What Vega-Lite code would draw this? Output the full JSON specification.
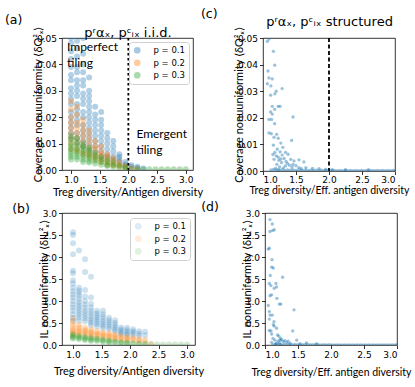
{
"$schema": "https://vega.github.io/schema/vega-lite/v6.json",
"padding": {"left": 4, "top": 7, "right": 20, "bottom": 4},
"background": "white",
"config": {
  "view": {"stroke": "#000", "strokeWidth": 0.8},
  "axis": {"grid": false, "domain": false, "tickColor": "#000", "tickSize": 3.5, "tickWidth": 0.8, "labelFont": "DejaVu Sans", "labelFontSize": 9, "labelColor": "#000", "labelPadding": 2, "titleFont": "Lato", "titleFontSize": 11, "titleFontWeight": "normal", "titleColor": "#000"},
  "axisY": {"titlePadding": -7},
  "title": {"font": "DejaVu Sans", "fontSize": 12.5, "fontWeight": "normal", "color": "#000", "anchor": "start", "frame": "bounds"},
  "legend": {"fillColor": "white", "strokeColor": "#d0d0d0", "cornerRadius": 3, "padding": 4, "symbolSize": 45, "symbolStrokeWidth": 0, "symbolType": "circle", "labelFont": "DejaVu Sans", "labelFontSize": 8.5, "labelColor": "#000", "rowPadding": 3.5, "labelOffset": 12}
},
"datasets": {
"qa": [
{"x":1,"p":"0.1","y":0.050},{"x":1,"p":"0.1","y":0.048},{"x":1,"p":"0.1","y":0.045},{"x":1,"p":"0.1","y":0.042},{"x":1,"p":"0.1","y":0.039},{"x":1,"p":"0.1","y":0.036},{"x":1,"p":"0.1","y":0.034},{"x":1,"p":"0.1","y":0.031},{"x":1,"p":"0.1","y":0.029},{"x":1,"p":"0.1","y":0.027},{"x":1,"p":"0.1","y":0.025},{"x":1,"p":"0.1","y":0.022},{"x":1,"p":"0.1","y":0.020},{"x":1,"p":"0.1","y":0.018},{"x":1,"p":"0.1","y":0.016},{"x":1,"p":"0.1","y":0.014},{"x":1,"p":"0.1","y":0.012},
{"x":1.105,"p":"0.1","y":0.049},{"x":1.105,"p":"0.1","y":0.046},{"x":1.105,"p":"0.1","y":0.043},{"x":1.105,"p":"0.1","y":0.039},{"x":1.105,"p":"0.1","y":0.037},{"x":1.105,"p":"0.1","y":0.034},{"x":1.105,"p":"0.1","y":0.032},{"x":1.105,"p":"0.1","y":0.030},{"x":1.105,"p":"0.1","y":0.028},{"x":1.105,"p":"0.1","y":0.025},{"x":1.105,"p":"0.1","y":0.023},{"x":1.105,"p":"0.1","y":0.021},{"x":1.105,"p":"0.1","y":0.019},{"x":1.105,"p":"0.1","y":0.017},{"x":1.105,"p":"0.1","y":0.014},{"x":1.105,"p":"0.1","y":0.012},{"x":1.105,"p":"0.1","y":0.010},
{"x":1.211,"p":"0.1","y":0.050},{"x":1.211,"p":"0.1","y":0.044},{"x":1.211,"p":"0.1","y":0.040},{"x":1.211,"p":"0.1","y":0.037},{"x":1.211,"p":"0.1","y":0.034},{"x":1.211,"p":"0.1","y":0.032},{"x":1.211,"p":"0.1","y":0.029},{"x":1.211,"p":"0.1","y":0.027},{"x":1.211,"p":"0.1","y":0.025},{"x":1.211,"p":"0.1","y":0.022},{"x":1.211,"p":"0.1","y":0.020},{"x":1.211,"p":"0.1","y":0.017},{"x":1.211,"p":"0.1","y":0.015},{"x":1.211,"p":"0.1","y":0.013},{"x":1.211,"p":"0.1","y":0.011},{"x":1.211,"p":"0.1","y":0.009},
{"x":1.316,"p":"0.1","y":0.035},{"x":1.316,"p":"0.1","y":0.030},{"x":1.316,"p":"0.1","y":0.028},{"x":1.316,"p":"0.1","y":0.026},{"x":1.316,"p":"0.1","y":0.024},{"x":1.316,"p":"0.1","y":0.022},{"x":1.316,"p":"0.1","y":0.020},{"x":1.316,"p":"0.1","y":0.018},{"x":1.316,"p":"0.1","y":0.016},{"x":1.316,"p":"0.1","y":0.014},{"x":1.316,"p":"0.1","y":0.012},{"x":1.316,"p":"0.1","y":0.010},{"x":1.316,"p":"0.1","y":0.008},
{"x":1.421,"p":"0.1","y":0.024},{"x":1.421,"p":"0.1","y":0.021},{"x":1.421,"p":"0.1","y":0.019},{"x":1.421,"p":"0.1","y":0.017},{"x":1.421,"p":"0.1","y":0.015},{"x":1.421,"p":"0.1","y":0.013},{"x":1.421,"p":"0.1","y":0.011},{"x":1.421,"p":"0.1","y":0.009},{"x":1.421,"p":"0.1","y":0.007},
{"x":1.526,"p":"0.1","y":0.022},{"x":1.526,"p":"0.1","y":0.019},{"x":1.526,"p":"0.1","y":0.017},{"x":1.526,"p":"0.1","y":0.015},{"x":1.526,"p":"0.1","y":0.013},{"x":1.526,"p":"0.1","y":0.011},{"x":1.526,"p":"0.1","y":0.009},{"x":1.526,"p":"0.1","y":0.007},{"x":1.526,"p":"0.1","y":0.005},
{"x":1.632,"p":"0.1","y":0.014},{"x":1.632,"p":"0.1","y":0.012},{"x":1.632,"p":"0.1","y":0.010},{"x":1.632,"p":"0.1","y":0.008},{"x":1.632,"p":"0.1","y":0.006},{"x":1.632,"p":"0.1","y":0.005},
{"x":1.737,"p":"0.1","y":0.011},{"x":1.737,"p":"0.1","y":0.009},{"x":1.737,"p":"0.1","y":0.007},{"x":1.737,"p":"0.1","y":0.005},{"x":1.737,"p":"0.1","y":0.004},
{"x":1.842,"p":"0.1","y":0.006},{"x":1.842,"p":"0.1","y":0.005},{"x":1.842,"p":"0.1","y":0.004},{"x":1.842,"p":"0.1","y":0.003},
{"x":1.947,"p":"0.1","y":0.003},{"x":1.947,"p":"0.1","y":0.0022},{"x":1.947,"p":"0.1","y":0.0015},
{"x":2.053,"p":"0.1","y":0.0018},{"x":2.053,"p":"0.1","y":0.0012},
{"x":2.158,"p":"0.1","y":0.0012},{"x":2.158,"p":"0.1","y":0.0008},
{"x":2.263,"p":"0.1","y":0.0006},
{"x":1,"p":"0.2","y":0.026},{"x":1,"p":"0.2","y":0.023},{"x":1,"p":"0.2","y":0.020},{"x":1,"p":"0.2","y":0.018},{"x":1,"p":"0.2","y":0.016},{"x":1,"p":"0.2","y":0.014},{"x":1,"p":"0.2","y":0.012},{"x":1,"p":"0.2","y":0.010},{"x":1,"p":"0.2","y":0.008},
{"x":1.105,"p":"0.2","y":0.024},{"x":1.105,"p":"0.2","y":0.021},{"x":1.105,"p":"0.2","y":0.018},{"x":1.105,"p":"0.2","y":0.016},{"x":1.105,"p":"0.2","y":0.014},{"x":1.105,"p":"0.2","y":0.012},{"x":1.105,"p":"0.2","y":0.010},{"x":1.105,"p":"0.2","y":0.008},{"x":1.105,"p":"0.2","y":0.007},
{"x":1.211,"p":"0.2","y":0.019},{"x":1.211,"p":"0.2","y":0.017},{"x":1.211,"p":"0.2","y":0.015},{"x":1.211,"p":"0.2","y":0.013},{"x":1.211,"p":"0.2","y":0.011},{"x":1.211,"p":"0.2","y":0.009},{"x":1.211,"p":"0.2","y":0.007},{"x":1.211,"p":"0.2","y":0.006},
{"x":1.316,"p":"0.2","y":0.015},{"x":1.316,"p":"0.2","y":0.013},{"x":1.316,"p":"0.2","y":0.011},{"x":1.316,"p":"0.2","y":0.009},{"x":1.316,"p":"0.2","y":0.007},{"x":1.316,"p":"0.2","y":0.006},{"x":1.316,"p":"0.2","y":0.005},
{"x":1.421,"p":"0.2","y":0.011},{"x":1.421,"p":"0.2","y":0.009},{"x":1.421,"p":"0.2","y":0.008},{"x":1.421,"p":"0.2","y":0.006},{"x":1.421,"p":"0.2","y":0.005},{"x":1.421,"p":"0.2","y":0.004},
{"x":1.526,"p":"0.2","y":0.009},{"x":1.526,"p":"0.2","y":0.007},{"x":1.526,"p":"0.2","y":0.006},{"x":1.526,"p":"0.2","y":0.005},{"x":1.526,"p":"0.2","y":0.004},{"x":1.526,"p":"0.2","y":0.003},
{"x":1.632,"p":"0.2","y":0.006},{"x":1.632,"p":"0.2","y":0.005},{"x":1.632,"p":"0.2","y":0.004},{"x":1.632,"p":"0.2","y":0.003},{"x":1.632,"p":"0.2","y":0.002},
{"x":1.737,"p":"0.2","y":0.0045},{"x":1.737,"p":"0.2","y":0.0035},{"x":1.737,"p":"0.2","y":0.0025},{"x":1.737,"p":"0.2","y":0.0018},
{"x":1.842,"p":"0.2","y":0.003},{"x":1.842,"p":"0.2","y":0.002},{"x":1.842,"p":"0.2","y":0.0014},
{"x":1.947,"p":"0.2","y":0.0015},{"x":1.947,"p":"0.2","y":0.001},
{"x":2.053,"p":"0.2","y":0.0007},{"x":2.158,"p":"0.2","y":0.0004},
{"x":1,"p":"0.3","y":0.013},{"x":1,"p":"0.3","y":0.0115},{"x":1,"p":"0.3","y":0.010},{"x":1,"p":"0.3","y":0.009},{"x":1,"p":"0.3","y":0.008},{"x":1,"p":"0.3","y":0.007},{"x":1,"p":"0.3","y":0.006},{"x":1,"p":"0.3","y":0.005},{"x":1,"p":"0.3","y":0.004},
{"x":1.105,"p":"0.3","y":0.012},{"x":1.105,"p":"0.3","y":0.0105},{"x":1.105,"p":"0.3","y":0.009},{"x":1.105,"p":"0.3","y":0.008},{"x":1.105,"p":"0.3","y":0.007},{"x":1.105,"p":"0.3","y":0.006},{"x":1.105,"p":"0.3","y":0.005},{"x":1.105,"p":"0.3","y":0.004},
{"x":1.211,"p":"0.3","y":0.010},{"x":1.211,"p":"0.3","y":0.009},{"x":1.211,"p":"0.3","y":0.008},{"x":1.211,"p":"0.3","y":0.007},{"x":1.211,"p":"0.3","y":0.006},{"x":1.211,"p":"0.3","y":0.005},{"x":1.211,"p":"0.3","y":0.004},{"x":1.211,"p":"0.3","y":0.003},
{"x":1.316,"p":"0.3","y":0.0085},{"x":1.316,"p":"0.3","y":0.0075},{"x":1.316,"p":"0.3","y":0.0065},{"x":1.316,"p":"0.3","y":0.0055},{"x":1.316,"p":"0.3","y":0.0045},{"x":1.316,"p":"0.3","y":0.0035},{"x":1.316,"p":"0.3","y":0.0028},
{"x":1.421,"p":"0.3","y":0.0065},{"x":1.421,"p":"0.3","y":0.0055},{"x":1.421,"p":"0.3","y":0.0045},{"x":1.421,"p":"0.3","y":0.0035},{"x":1.421,"p":"0.3","y":0.0025},
{"x":1.526,"p":"0.3","y":0.005},{"x":1.526,"p":"0.3","y":0.004},{"x":1.526,"p":"0.3","y":0.003},{"x":1.526,"p":"0.3","y":0.002},
{"x":1.632,"p":"0.3","y":0.004},{"x":1.632,"p":"0.3","y":0.003},{"x":1.632,"p":"0.3","y":0.002},{"x":1.632,"p":"0.3","y":0.0015},
{"x":1.737,"p":"0.3","y":0.003},{"x":1.737,"p":"0.3","y":0.002},{"x":1.737,"p":"0.3","y":0.0012},
{"x":1.842,"p":"0.3","y":0.0018},{"x":1.842,"p":"0.3","y":0.001},
{"x":1.947,"p":"0.3","y":0.001},{"x":1.947,"p":"0.3","y":0.0006},
{"x":2.053,"p":"0.3","y":0.0004},{"x":2.158,"p":"0.3","y":0.0003},{"x":2.263,"p":"0.3","y":0.0003},{"x":2.368,"p":"0.3","y":0.0003},{"x":2.474,"p":"0.3","y":0.0003},{"x":2.579,"p":"0.3","y":0.0003},{"x":2.684,"p":"0.3","y":0.0003},{"x":2.789,"p":"0.3","y":0.0003},{"x":2.895,"p":"0.3","y":0.0003},{"x":3.0,"p":"0.3","y":0.0003}
],
"ilb": [
{"x":1,"p":"0.1","y":2.56},{"x":1,"p":"0.1","y":2.50},{"x":1,"p":"0.1","y":2.31},{"x":1,"p":"0.1","y":2.06},{"x":1,"p":"0.1","y":1.69},{"x":1,"p":"0.1","y":1.63},{"x":1,"p":"0.1","y":1.47},{"x":1,"p":"0.1","y":1.40},{"x":1,"p":"0.1","y":1.30},{"x":1,"p":"0.1","y":1.22},{"x":1,"p":"0.1","y":1.15},{"x":1,"p":"0.1","y":1.08},{"x":1,"p":"0.1","y":1.00},{"x":1,"p":"0.1","y":0.92},{"x":1,"p":"0.1","y":0.85},{"x":1,"p":"0.1","y":0.78},{"x":1,"p":"0.1","y":0.70},{"x":1,"p":"0.1","y":0.62},{"x":1,"p":"0.1","y":0.55},
{"x":1.105,"p":"0.1","y":2.15},{"x":1.105,"p":"0.1","y":1.30},{"x":1.105,"p":"0.1","y":1.24},{"x":1.105,"p":"0.1","y":1.18},{"x":1.105,"p":"0.1","y":1.12},{"x":1.105,"p":"0.1","y":1.05},{"x":1.105,"p":"0.1","y":0.98},{"x":1.105,"p":"0.1","y":0.92},{"x":1.105,"p":"0.1","y":0.86},{"x":1.105,"p":"0.1","y":0.80},{"x":1.105,"p":"0.1","y":0.74},{"x":1.105,"p":"0.1","y":0.68},{"x":1.105,"p":"0.1","y":0.62},{"x":1.105,"p":"0.1","y":0.55},
{"x":1.211,"p":"0.1","y":1.95},{"x":1.211,"p":"0.1","y":1.66},{"x":1.211,"p":"0.1","y":1.25},{"x":1.211,"p":"0.1","y":1.10},{"x":1.211,"p":"0.1","y":1.00},{"x":1.211,"p":"0.1","y":0.92},{"x":1.211,"p":"0.1","y":0.85},{"x":1.211,"p":"0.1","y":0.78},{"x":1.211,"p":"0.1","y":0.72},{"x":1.211,"p":"0.1","y":0.66},{"x":1.211,"p":"0.1","y":0.60},{"x":1.211,"p":"0.1","y":0.54},
{"x":1.316,"p":"0.1","y":1.55},{"x":1.316,"p":"0.1","y":1.08},{"x":1.316,"p":"0.1","y":0.94},{"x":1.316,"p":"0.1","y":0.85},{"x":1.316,"p":"0.1","y":0.78},{"x":1.316,"p":"0.1","y":0.72},{"x":1.316,"p":"0.1","y":0.66},{"x":1.316,"p":"0.1","y":0.60},{"x":1.316,"p":"0.1","y":0.55},{"x":1.316,"p":"0.1","y":0.50},{"x":1.316,"p":"0.1","y":0.45},
{"x":1.421,"p":"0.1","y":0.78},{"x":1.421,"p":"0.1","y":0.72},{"x":1.421,"p":"0.1","y":0.67},{"x":1.421,"p":"0.1","y":0.62},{"x":1.421,"p":"0.1","y":0.57},{"x":1.421,"p":"0.1","y":0.52},{"x":1.421,"p":"0.1","y":0.47},{"x":1.421,"p":"0.1","y":0.42},
{"x":1.526,"p":"0.1","y":0.78},{"x":1.526,"p":"0.1","y":0.70},{"x":1.526,"p":"0.1","y":0.64},{"x":1.526,"p":"0.1","y":0.58},{"x":1.526,"p":"0.1","y":0.53},{"x":1.526,"p":"0.1","y":0.48},{"x":1.526,"p":"0.1","y":0.43},{"x":1.526,"p":"0.1","y":0.38},
{"x":1.632,"p":"0.1","y":0.62},{"x":1.632,"p":"0.1","y":0.56},{"x":1.632,"p":"0.1","y":0.51},{"x":1.632,"p":"0.1","y":0.46},{"x":1.632,"p":"0.1","y":0.41},{"x":1.632,"p":"0.1","y":0.36},
{"x":1.737,"p":"0.1","y":0.56},{"x":1.737,"p":"0.1","y":0.50},{"x":1.737,"p":"0.1","y":0.45},{"x":1.737,"p":"0.1","y":0.40},{"x":1.737,"p":"0.1","y":0.35},{"x":1.737,"p":"0.1","y":0.31},
{"x":1.842,"p":"0.1","y":0.40},{"x":1.842,"p":"0.1","y":0.36},{"x":1.842,"p":"0.1","y":0.32},{"x":1.842,"p":"0.1","y":0.28},{"x":1.842,"p":"0.1","y":0.25},
{"x":1.947,"p":"0.1","y":0.39},{"x":1.947,"p":"0.1","y":0.34},{"x":1.947,"p":"0.1","y":0.30},{"x":1.947,"p":"0.1","y":0.26},{"x":1.947,"p":"0.1","y":0.23},
{"x":2.053,"p":"0.1","y":0.36},{"x":2.053,"p":"0.1","y":0.31},{"x":2.053,"p":"0.1","y":0.27},{"x":2.053,"p":"0.1","y":0.23},
{"x":2.158,"p":"0.1","y":0.31},{"x":2.158,"p":"0.1","y":0.26},{"x":2.158,"p":"0.1","y":0.21},
{"x":2.263,"p":"0.1","y":0.30},{"x":2.263,"p":"0.1","y":0.22},
{"x":1,"p":"0.2","y":0.60},{"x":1,"p":"0.2","y":0.52},{"x":1,"p":"0.2","y":0.46},{"x":1,"p":"0.2","y":0.41},{"x":1,"p":"0.2","y":0.37},{"x":1,"p":"0.2","y":0.33},{"x":1,"p":"0.2","y":0.30},{"x":1,"p":"0.2","y":0.27},{"x":1,"p":"0.2","y":0.24},
{"x":1.105,"p":"0.2","y":0.46},{"x":1.105,"p":"0.2","y":0.41},{"x":1.105,"p":"0.2","y":0.37},{"x":1.105,"p":"0.2","y":0.33},{"x":1.105,"p":"0.2","y":0.30},{"x":1.105,"p":"0.2","y":0.27},{"x":1.105,"p":"0.2","y":0.24},
{"x":1.211,"p":"0.2","y":0.40},{"x":1.211,"p":"0.2","y":0.35},{"x":1.211,"p":"0.2","y":0.32},{"x":1.211,"p":"0.2","y":0.29},{"x":1.211,"p":"0.2","y":0.26},{"x":1.211,"p":"0.2","y":0.23},
{"x":1.316,"p":"0.2","y":0.36},{"x":1.316,"p":"0.2","y":0.32},{"x":1.316,"p":"0.2","y":0.29},{"x":1.316,"p":"0.2","y":0.26},{"x":1.316,"p":"0.2","y":0.23},{"x":1.316,"p":"0.2","y":0.20},
{"x":1.421,"p":"0.2","y":0.32},{"x":1.421,"p":"0.2","y":0.28},{"x":1.421,"p":"0.2","y":0.25},{"x":1.421,"p":"0.2","y":0.22},{"x":1.421,"p":"0.2","y":0.19},
{"x":1.526,"p":"0.2","y":0.29},{"x":1.526,"p":"0.2","y":0.26},{"x":1.526,"p":"0.2","y":0.23},{"x":1.526,"p":"0.2","y":0.20},{"x":1.526,"p":"0.2","y":0.17},
{"x":1.632,"p":"0.2","y":0.27},{"x":1.632,"p":"0.2","y":0.24},{"x":1.632,"p":"0.2","y":0.21},{"x":1.632,"p":"0.2","y":0.18},{"x":1.632,"p":"0.2","y":0.15},
{"x":1.737,"p":"0.2","y":0.25},{"x":1.737,"p":"0.2","y":0.22},{"x":1.737,"p":"0.2","y":0.19},{"x":1.737,"p":"0.2","y":0.16},{"x":1.737,"p":"0.2","y":0.13},
{"x":1.842,"p":"0.2","y":0.21},{"x":1.842,"p":"0.2","y":0.18},{"x":1.842,"p":"0.2","y":0.15},{"x":1.842,"p":"0.2","y":0.12},
{"x":1.947,"p":"0.2","y":0.19},{"x":1.947,"p":"0.2","y":0.16},{"x":1.947,"p":"0.2","y":0.13},{"x":1.947,"p":"0.2","y":0.10},
{"x":2.053,"p":"0.2","y":0.17},{"x":2.053,"p":"0.2","y":0.14},{"x":2.053,"p":"0.2","y":0.11},
{"x":2.158,"p":"0.2","y":0.14},{"x":2.158,"p":"0.2","y":0.11},{"x":2.158,"p":"0.2","y":0.08},
{"x":2.263,"p":"0.2","y":0.12},{"x":2.263,"p":"0.2","y":0.08},{"x":2.368,"p":"0.2","y":0.03},
{"x":1,"p":"0.3","y":0.25},{"x":1,"p":"0.3","y":0.22},{"x":1,"p":"0.3","y":0.20},{"x":1,"p":"0.3","y":0.18},{"x":1,"p":"0.3","y":0.16},{"x":1,"p":"0.3","y":0.14},
{"x":1.105,"p":"0.3","y":0.21},{"x":1.105,"p":"0.3","y":0.19},{"x":1.105,"p":"0.3","y":0.17},{"x":1.105,"p":"0.3","y":0.15},{"x":1.105,"p":"0.3","y":0.13},
{"x":1.211,"p":"0.3","y":0.19},{"x":1.211,"p":"0.3","y":0.17},{"x":1.211,"p":"0.3","y":0.15},{"x":1.211,"p":"0.3","y":0.13},{"x":1.211,"p":"0.3","y":0.11},
{"x":1.316,"p":"0.3","y":0.17},{"x":1.316,"p":"0.3","y":0.15},{"x":1.316,"p":"0.3","y":0.13},{"x":1.316,"p":"0.3","y":0.11},{"x":1.316,"p":"0.3","y":0.09},
{"x":1.421,"p":"0.3","y":0.15},{"x":1.421,"p":"0.3","y":0.13},{"x":1.421,"p":"0.3","y":0.11},{"x":1.421,"p":"0.3","y":0.09},
{"x":1.526,"p":"0.3","y":0.13},{"x":1.526,"p":"0.3","y":0.11},{"x":1.526,"p":"0.3","y":0.09},{"x":1.526,"p":"0.3","y":0.07},
{"x":1.632,"p":"0.3","y":0.11},{"x":1.632,"p":"0.3","y":0.09},{"x":1.632,"p":"0.3","y":0.07},{"x":1.632,"p":"0.3","y":0.05},
{"x":1.737,"p":"0.3","y":0.09},{"x":1.737,"p":"0.3","y":0.07},{"x":1.737,"p":"0.3","y":0.05},
{"x":1.842,"p":"0.3","y":0.07},{"x":1.842,"p":"0.3","y":0.05},{"x":1.842,"p":"0.3","y":0.04},
{"x":1.947,"p":"0.3","y":0.06},{"x":1.947,"p":"0.3","y":0.04},{"x":1.947,"p":"0.3","y":0.03},
{"x":2.053,"p":"0.3","y":0.04},{"x":2.053,"p":"0.3","y":0.03},
{"x":2.158,"p":"0.3","y":0.03},{"x":2.158,"p":"0.3","y":0.02},
{"x":2.263,"p":"0.3","y":0.02},{"x":2.263,"p":"0.3","y":0.015},
{"x":2.368,"p":"0.3","y":0.01},{"x":2.474,"p":"0.3","y":0.01},{"x":2.579,"p":"0.3","y":0.01},{"x":2.684,"p":"0.3","y":0.01},{"x":2.789,"p":"0.3","y":0.01},{"x":2.895,"p":"0.3","y":0.01},{"x":3.0,"p":"0.3","y":0.01}
],
"sc": [
{"x":1.09,"y":0.0496},{"x":1.066,"y":0.0487},{"x":1.157,"y":0.045},{"x":1.177,"y":0.0398},{"x":1.076,"y":0.0376},{"x":1.09,"y":0.035},{"x":1.14,"y":0.0346},{"x":1.066,"y":0.0328},{"x":1.12,"y":0.032},{"x":1.2,"y":0.030},{"x":1.29,"y":0.031},{"x":1.18,"y":0.029},{"x":1.116,"y":0.0285},{"x":1.14,"y":0.0243},{"x":1.23,"y":0.0243},{"x":1.26,"y":0.0243},{"x":1.177,"y":0.0232},{"x":1.116,"y":0.0222},{"x":1.14,"y":0.0214},{"x":1.09,"y":0.0194},{"x":1.13,"y":0.0194},{"x":1.455,"y":0.0203},{"x":1.177,"y":0.0178},{"x":1.09,"y":0.0143},{"x":1.126,"y":0.014},{"x":1.207,"y":0.0138},{"x":1.167,"y":0.0127},{"x":1.23,"y":0.0123},{"x":1.27,"y":0.0105},{"x":1.434,"y":0.0115},{"x":1.157,"y":0.0097},{"x":1.3,"y":0.0089},{"x":1.217,"y":0.0082},{"x":1.18,"y":0.007},{"x":1.26,"y":0.0072},{"x":1.34,"y":0.007},{"x":1.2,"y":0.0057},{"x":1.29,"y":0.006},{"x":1.38,"y":0.0063},{"x":1.167,"y":0.0044},{"x":1.24,"y":0.004},{"x":1.32,"y":0.0047},{"x":1.42,"y":0.0044},{"x":1.47,"y":0.0038},{"x":1.545,"y":0.0042},{"x":1.62,"y":0.0034},{"x":1.28,"y":0.0032},{"x":1.37,"y":0.0029},{"x":1.455,"y":0.0025},{"x":1.34,"y":0.0019},{"x":1.44,"y":0.0015},{"x":1.545,"y":0.0013},{"x":1.65,"y":0.0013},{"x":1.75,"y":0.001},{"x":1.85,"y":0.0009},{"x":1.95,"y":0.0006},{"x":2.05,"y":0.0005},{"x":2.25,"y":0.0005},{"x":2.6,"y":0.0005},{"x":1.21,"y":0.0025},{"x":1.25,"y":0.0015},{"x":1.19,"y":0.001},{"x":1.31,"y":0.0012},{"x":1.23,"y":0.0052},{"x":1.15,"y":0.0062},{"x":1.27,"y":0.0045},{"x":1.35,"y":0.0036},{"x":1.4,"y":0.0022},{"x":1.5,"y":0.002},{"x":1.58,"y":0.0009}
],
"sd": [
{"x":1.076,"y":2.85},{"x":1.11,"y":2.75},{"x":1.076,"y":2.58},{"x":1.116,"y":2.60},{"x":1.14,"y":2.62},{"x":1.05,"y":2.18},{"x":1.066,"y":2.20},{"x":1.106,"y":1.94},{"x":1.10,"y":1.77},{"x":1.126,"y":1.75},{"x":1.08,"y":1.58},{"x":1.267,"y":1.54},{"x":1.066,"y":1.40},{"x":1.09,"y":1.35},{"x":1.166,"y":1.40},{"x":1.14,"y":1.29},{"x":1.176,"y":1.32},{"x":1.076,"y":1.12},{"x":1.10,"y":1.14},{"x":1.18,"y":1.06},{"x":1.217,"y":0.93},{"x":1.24,"y":0.93},{"x":1.44,"y":0.80},{"x":1.05,"y":0.90},{"x":1.066,"y":0.76},{"x":1.076,"y":0.68},{"x":1.066,"y":0.59},{"x":1.11,"y":0.68},{"x":1.136,"y":0.53},{"x":1.126,"y":0.46},{"x":1.14,"y":0.43},{"x":1.066,"y":0.33},{"x":1.09,"y":0.32},{"x":1.10,"y":0.25},{"x":1.176,"y":0.38},{"x":1.19,"y":0.23},{"x":1.42,"y":0.32},{"x":1.226,"y":0.11},{"x":1.237,"y":0.15},{"x":1.15,"y":0.11},{"x":1.277,"y":0.08},{"x":1.33,"y":0.06},{"x":1.48,"y":0.11},{"x":1.63,"y":0.05},{"x":1.10,"y":0.06},{"x":1.176,"y":0.04},{"x":1.38,"y":0.04},{"x":1.53,"y":0.03},{"x":1.78,"y":0.03},{"x":1.2,"y":0.09},{"x":1.25,"y":0.12},{"x":1.3,"y":0.1},{"x":1.16,"y":0.02},{"x":1.22,"y":0.05},{"x":1.12,"y":0.15},{"x":1.21,"y":0.2},{"x":1.35,"y":0.09}
],
"z": [
{"x":1.12,"q":0.0004,"il":0.01},{"x":1.16,"q":0.0006,"il":0.02},{"x":1.2,"q":0.0003,"il":0.01},{"x":1.23,"q":0.0005,"il":0.015},{"x":1.25,"q":0.0003,"il":0.01},{"x":1.29,"q":0.0005,"il":0.02},{"x":1.33,"q":0.0002,"il":0.008},{"x":1.37,"q":0.0004,"il":0.015},{"x":1.41,"q":0.0003,"il":0.01},{"x":1.45,"q":0.0005,"il":0.012},{"x":1.49,"q":0.0002,"il":0.006},{"x":1.53,"q":0.0004,"il":0.01},{"x":1.57,"q":0.0003,"il":0.008},{"x":1.61,"q":0.0002,"il":0.012},{"x":1.65,"q":0.0004,"il":0.006},{"x":1.69,"q":0.0002,"il":0.008},{"x":1.73,"q":0.0003,"il":0.005},{"x":1.77,"q":0.0002,"il":0.006},{"x":1.81,"q":0.0003,"il":0.008},{"x":1.85,"q":0.0002,"il":0.004},{"x":1.89,"q":0.0003,"il":0.006},{"x":1.93,"q":0.0002,"il":0.004},{"x":1.97,"q":0.0002,"il":0.005},{"x":2.01,"q":0.0003,"il":0.004},{"x":2.05,"q":0.0002,"il":0.003},{"x":2.09,"q":0.0002,"il":0.004},{"x":2.13,"q":0.0001,"il":0.003},{"x":2.17,"q":0.0002,"il":0.003},{"x":2.21,"q":0.0001,"il":0.004},{"x":2.25,"q":0.0002,"il":0.003},{"x":2.29,"q":0.0001,"il":0.002},{"x":2.33,"q":0.0002,"il":0.003},{"x":2.37,"q":0.0001,"il":0.002},{"x":2.41,"q":0.0002,"il":0.003},{"x":2.45,"q":0.0001,"il":0.002},{"x":2.49,"q":0.0002,"il":0.002},{"x":2.53,"q":0.0001,"il":0.003},{"x":2.57,"q":0.0002,"il":0.002},{"x":2.61,"q":0.0001,"il":0.002},{"x":2.65,"q":0.0002,"il":0.003},{"x":2.69,"q":0.0001,"il":0.002},{"x":2.73,"q":0.0002,"il":0.002},{"x":2.77,"q":0.0001,"il":0.002},{"x":2.81,"q":0.0002,"il":0.003},{"x":2.85,"q":0.0001,"il":0.002},{"x":2.89,"q":0.0002,"il":0.002},{"x":2.93,"q":0.0001,"il":0.002},{"x":2.97,"q":0.0002,"il":0.002},{"x":3.0,"q":0.0001,"il":0.002}
]
},
"vconcat": [
 {"hconcat": [
  {"title": {"text": "(a)", "dx": -27.5, "offset": 0},
   "width": 131, "height": 132,
   "layer": [
    {"data": {"name": "qa"}, "mark": {"type": "circle", "size": 36, "opacity": 0.35, "clip": true},
     "encoding": {
      "x": {"field": "x", "type": "quantitative", "scale": {"domain": [0.843, 3.127], "nice": false, "zero": false}, "axis": {"values": [1, 1.5, 2, 2.5, 3], "format": ".1f", "title": "Treg diversity/Antigen diversity", "titlePadding": 2}},
      "y": {"field": "y", "type": "quantitative", "scale": {"domain": [0, 0.05], "nice": false}, "axis": {"values": [0, 0.01, 0.02, 0.03, 0.04, 0.05], "format": ".2f", "title": "Coverage nonuuniformity ⟨δQ²ₓ⟩"}},
      "color": {"field": "p", "type": "nominal", "scale": {"domain": ["0.1", "0.2", "0.3"], "range": ["#1f77b4", "#ff7f0e", "#2ca02c"]}, "legend": {"orient": "top-right", "offset": 4, "title": null, "symbolOpacity": 0.4, "labelExpr": "'p = ' + datum.label"}}
     }},
    {"data": {"values": [{"x": 2}]}, "mark": {"type": "rule", "strokeDash": [2.5, 2.5], "strokeWidth": 1.8, "color": "#000"},
     "encoding": {"x": {"field": "x", "type": "quantitative", "axis": {"orient": "top", "labels": false, "ticks": false, "domain": false, "title": "pʳαₓ, pᶜᵢₓ i.i.d.", "titleFont": "DejaVu Sans", "titleFontSize": 13, "titlePadding": -1}}}},
    {"data": {"values": [{"x": 0.93, "y": 0.0465, "t": "Imperfect"}, {"x": 0.93, "y": 0.0405, "t": "tiling"}, {"x": 2.14, "y": 0.0136, "t": "Emergent"}, {"x": 2.14, "y": 0.0077, "t": "tiling"}]},
     "mark": {"type": "text", "font": "Lato", "fontSize": 12, "align": "left", "baseline": "middle", "color": "#000"},
     "encoding": {"x": {"field": "x", "type": "quantitative", "axis": null}, "y": {"field": "y", "type": "quantitative", "axis": null}, "text": {"field": "t"}}}
   ],
   "resolve": {"axis": {"x": "independent", "y": "independent"}}
  },
  {"title": {"text": "(c)", "dx": -32.5, "offset": -5},
   "width": 132, "height": 133,
   "layer": [
    {"data": {"name": "sc"}, "mark": {"type": "circle", "size": 11, "opacity": 0.45, "color": "#1f77b4", "clip": true},
     "encoding": {
      "x": {"field": "x", "type": "quantitative", "scale": {"domain": [1, 3], "nice": false, "zero": false}, "axis": {"values": [1, 1.5, 2, 2.5, 3], "format": ".1f", "title": "Treg diversity/Eff. antigen diversity", "titleFontSize": 10.5, "titlePadding": 1, "labelPadding": 1}},
      "y": {"field": "y", "type": "quantitative", "scale": {"domain": [0, 0.05], "nice": false}, "axis": {"values": [0, 0.01, 0.02, 0.03, 0.04, 0.05], "format": ".2f", "title": "Coverage nonuuniformity ⟨δQ²ₓ⟩"}}
     }},
    {"data": {"name": "z"}, "mark": {"type": "circle", "size": 11, "opacity": 0.45, "color": "#1f77b4", "clip": true},
     "encoding": {"x": {"field": "x", "type": "quantitative", "axis": null}, "y": {"field": "q", "type": "quantitative", "axis": null}}},
    {"data": {"values": [{"x": 2}]}, "mark": {"type": "rule", "strokeDash": [4, 2.5], "strokeWidth": 1.8, "color": "#000"},
     "encoding": {"x": {"field": "x", "type": "quantitative", "axis": {"orient": "top", "labels": false, "ticks": false, "domain": false, "title": "pʳαₓ, pᶜᵢₓ structured", "titleFont": "DejaVu Sans", "titleFontSize": 13, "titlePadding": 10}}}}
   ],
   "resolve": {"axis": {"x": "independent", "y": "independent"}}
  }
 ], "spacing": 70, "bounds": "flush", "resolve": {"scale": {"color": "independent"}, "legend": {"color": "independent"}}},
 {"hconcat": [
  {"title": {"text": "(b)", "dx": -26, "offset": -6},
   "width": 133, "height": 132,
   "layer": [
    {"data": {"name": "ilb"}, "mark": {"type": "circle", "size": 36, "opacity": 0.22, "clip": true},
     "encoding": {
      "x": {"field": "x", "type": "quantitative", "scale": {"domain": [0.807, 3.14], "nice": false, "zero": false}, "axis": {"values": [1, 1.5, 2, 2.5, 3], "format": ".1f", "title": "Treg diversity/Antigen diversity", "titlePadding": 6}},
      "y": {"field": "y", "type": "quantitative", "scale": {"domain": [0, 3], "nice": false}, "axis": {"values": [0, 0.5, 1, 1.5, 2, 2.5, 3], "format": ".1f", "title": "IL nonuuniformity ⟨δIL²ₓ⟩"}},
      "color": {"field": "p", "type": "nominal", "scale": {"domain": ["0.1", "0.2", "0.3"], "range": ["#1f77b4", "#ff7f0e", "#2ca02c"]}, "legend": {"orient": "top-right", "offset": 5, "title": null, "symbolOpacity": 0.15, "labelExpr": "'p = ' + datum.label"}}
     }}
   ]
  },
  {"title": {"text": "(d)", "dx": -40, "offset": -4},
   "width": 132, "height": 132,
   "layer": [
    {"data": {"name": "sd"}, "mark": {"type": "circle", "size": 11, "opacity": 0.45, "color": "#1f77b4", "clip": true},
     "encoding": {
      "x": {"field": "x", "type": "quantitative", "scale": {"domain": [1, 3], "nice": false, "zero": false}, "axis": {"values": [1, 1.5, 2, 2.5, 3], "format": ".1f", "title": "Treg diversity/Eff. antigen diversity", "titleFontSize": 10.5, "titlePadding": 8}},
      "y": {"field": "y", "type": "quantitative", "scale": {"domain": [0, 3], "nice": false}, "axis": {"values": [0, 0.5, 1, 1.5, 2, 2.5, 3], "format": ".1f", "title": "IL nonuuniformity ⟨δIL²ₓ⟩"}}
     }},
    {"data": {"name": "z"}, "mark": {"type": "circle", "size": 11, "opacity": 0.45, "color": "#1f77b4", "clip": true},
     "encoding": {"x": {"field": "x", "type": "quantitative", "axis": null}, "y": {"field": "il", "type": "quantitative", "axis": null}}}
   ],
   "resolve": {"axis": {"x": "independent", "y": "independent"}}
  }
 ], "spacing": 70, "bounds": "flush", "resolve": {"scale": {"color": "independent"}, "legend": {"color": "independent"}}}
],
"spacing": 2,
"resolve": {"scale": {"color": "independent"}, "legend": {"color": "independent"}}
}
